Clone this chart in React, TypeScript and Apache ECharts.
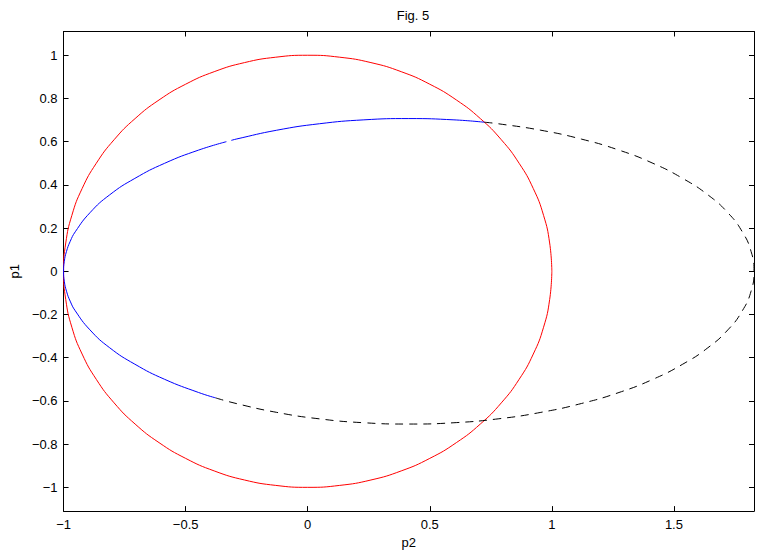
import React, { useEffect, useRef } from "react";
import * as echarts from "echarts";

// Red circle (p2, p1)
const circleP2 = [1, 0.991, 0.966, 0.924, 0.866, 0.793, 0.707, 0.609, 0.5, 0.383, 0.259, 0.131, 0,
  -0.131, -0.259, -0.383, -0.5, -0.609, -0.707, -0.793, -0.866, -0.924, -0.966, -0.991, -1,
  -0.991, -0.966, -0.924, -0.866, -0.793, -0.707, -0.609, -0.5, -0.383, -0.259, -0.131, 0,
  0.131, 0.259, 0.383, 0.5, 0.609, 0.707, 0.793, 0.866, 0.924, 0.966, 0.991, 1];
const circleP1 = [0, 0.131, 0.259, 0.383, 0.5, 0.609, 0.707, 0.793, 0.866, 0.924, 0.966, 0.991, 1,
  0.991, 0.966, 0.924, 0.866, 0.793, 0.707, 0.609, 0.5, 0.383, 0.259, 0.131, 0,
  -0.131, -0.259, -0.383, -0.5, -0.609, -0.707, -0.793, -0.866, -0.924, -0.966, -0.991, -1,
  -0.991, -0.966, -0.924, -0.866, -0.793, -0.707, -0.609, -0.5, -0.383, -0.259, -0.131, 0];

// Blue curve, upper piece (after the small break)
const blueAP2 = [-0.313, -0.293, -0.127, 0.048, 0.230, 0.414, 0.599, 0.724];
const blueAP1 = [0.606, 0.612, 0.653, 0.683, 0.701, 0.707, 0.701, 0.690];

// Blue curve, around the left end down to the lower branch
const blueBP2 = [-0.333, -0.447, -0.586, -0.708, -0.811, -0.892, -0.952, -0.973, -0.988, -0.997, -1,
  -0.997, -0.988, -0.973, -0.952, -0.892, -0.811, -0.708, -0.586, -0.447, -0.377];
const blueBP1 = [0.600, 0.561, 0.5, 0.430, 0.354, 0.271, 0.183, 0.138, 0.092, 0.046, 0,
  -0.046, -0.092, -0.138, -0.183, -0.271, -0.354, -0.430, -0.5, -0.561, -0.586];

// Black dashed remainder
const dashP2 = [-0.377, -0.293, -0.127, 0.048, 0.230, 0.414, 0.599, 0.780, 0.955, 1.121, 1.275, 1.414,
  1.536, 1.639, 1.721, 1.780, 1.816, 1.828, 1.816, 1.780, 1.721, 1.639, 1.536, 1.414, 1.275, 1.121,
  0.955, 0.780, 0.724];
const dashP1 = [-0.586, -0.612, -0.653, -0.683, -0.701, -0.707, -0.701, -0.683, -0.653, -0.612, -0.561,
  -0.5, -0.430, -0.354, -0.271, -0.183, -0.092, 0, 0.092, 0.183, 0.271, 0.354, 0.430, 0.5, 0.561, 0.612,
  0.653, 0.683, 0.690];

const xTicks = [-1, -0.5, 0, 0.5, 1, 1.5];
const yTicks = [-1, -0.8, -0.6, -0.4, -0.2, 0, 0.2, 0.4, 0.6, 0.8, 1];

const zip = (a: number[], b: number[]) => a.map((v, i) => [v, b[i]]);

const fmt = (v: number) => {
  const r = Math.round(v * 10) / 10;
  return (r < 0 ? "\u2212" : "") + String(Math.abs(r));
};

const FONT = "Liberation Sans, Arial, Helvetica, sans-serif";

export default function App() {
  const ref = useRef<HTMLDivElement>(null);
  useEffect(() => {
    document.body.style.margin = "0";
    const chart = echarts.init(ref.current!, null, { renderer: "svg" });
    const axisLine = { show: true, onZero: false, lineStyle: { color: "#000", width: 1 } };
    const labelStyle = { color: "#000", fontSize: 13, fontFamily: FONT };
    const tick = (vals: number[]) => ({
      show: true,
      inside: true,
      length: 5,
      customValues: vals,
      lineStyle: { color: "#000" },
    });
    const xCommon = {
      type: "value" as const,
      min: -1,
      max: 1.828,
      splitLine: { show: false },
      axisLine,
    };
    const yCommon = {
      type: "value" as const,
      min: -1.11,
      max: 1.11,
      splitLine: { show: false },
      axisLine,
    };
    const lineBase = { type: "line" as const, symbol: "none", smooth: 0.5 };
    chart.setOption({
      animation: false,
      backgroundColor: "#fff",
      title: {
        text: "Fig. 5",
        left: 408,
        top: 4,
        textAlign: "center",
        textStyle: { fontSize: 13, fontWeight: "normal", color: "#000", fontFamily: FONT },
      },
      grid: { left: 63, right: 7, top: 31.5, bottom: 40.5, containLabel: false },
      xAxis: [
        {
          ...xCommon,
          position: "bottom",
          name: "p2",
          nameLocation: "middle",
          nameGap: 24,
          nameTextStyle: { ...labelStyle },
          axisTick: tick(xTicks),
          axisLabel: { ...labelStyle, margin: 7, customValues: xTicks, formatter: fmt },
        },
        {
          ...xCommon,
          position: "top",
          axisTick: tick(xTicks),
          axisLabel: { show: false },
        },
      ],
      yAxis: [
        {
          ...yCommon,
          position: "left",
          name: "p1",
          nameLocation: "middle",
          nameGap: 41,
          nameTextStyle: { ...labelStyle },
          axisTick: tick(yTicks),
          axisLabel: { ...labelStyle, margin: 6, customValues: yTicks, formatter: fmt },
        },
        {
          ...yCommon,
          position: "right",
          axisTick: tick(yTicks),
          axisLabel: { show: false },
        },
      ],
      series: [
        { ...lineBase, data: zip(circleP2, circleP1), lineStyle: { color: "#ff0000", width: 1 } },
        { ...lineBase, data: zip(blueAP2, blueAP1), lineStyle: { color: "#0000ff", width: 1 } },
        { ...lineBase, data: zip(blueBP2, blueBP1), lineStyle: { color: "#0000ff", width: 1 } },
        { ...lineBase, data: zip(dashP2, dashP1), lineStyle: { color: "#000", width: 1, type: [8, 6] } },
      ],
    });
    return () => chart.dispose();
  }, []);
  return <div ref={ref} style={{ width: 761, height: 554 }} />;
}
